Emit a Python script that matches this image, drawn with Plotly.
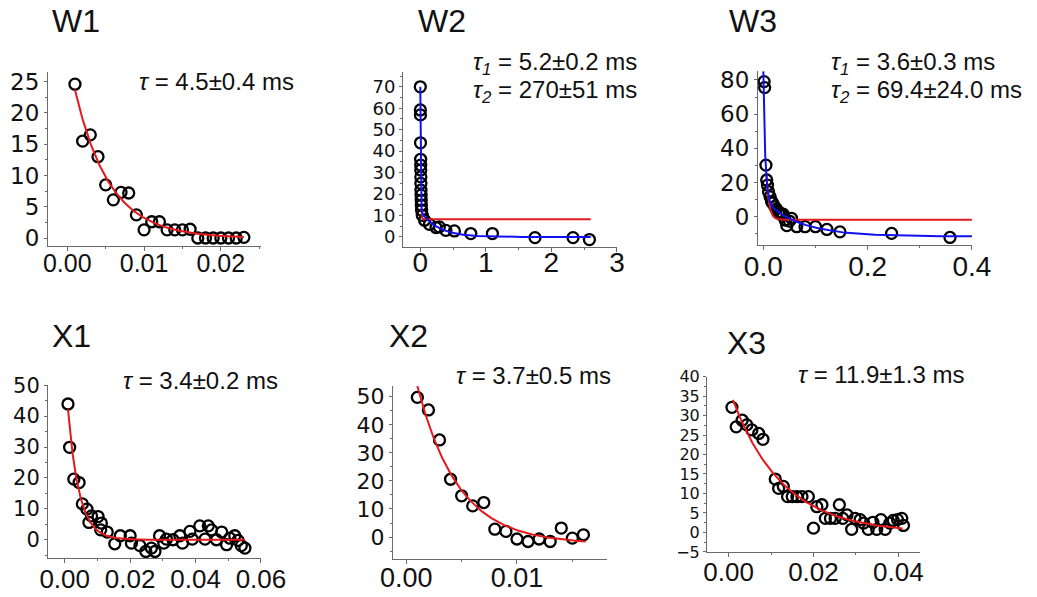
import numpy as np
import plotly.graph_objects as go

W, H = 1037, 597

# ---------------- data ----------------
w1_x = [0.001, 0.002, 0.003, 0.004, 0.005, 0.006, 0.007, 0.008, 0.009, 0.010, 0.011, 0.012,
        0.013, 0.014, 0.015, 0.016, 0.017, 0.018, 0.019, 0.020, 0.021, 0.022, 0.023]
w1_y = [24.6, 15.5, 16.5, 13.0, 8.5, 6.1, 7.3, 7.2, 3.7, 1.3, 2.6, 2.6,
        1.3, 1.3, 1.3, 1.4, 0.0, 0.0, 0.0, 0.0, 0.0, 0.0, 0.1]

w2_x = [0.0, 0.001, 0.002, 0.003, 0.005, 0.006, 0.007, 0.008, 0.009, 0.010, 0.012, 0.014,
        0.016, 0.020, 0.030, 0.065, 0.14, 0.24, 0.29, 0.39, 0.52, 0.77, 1.10, 1.75, 2.33, 2.58]
w2_y = [70.0, 59.2, 56.9, 43.9, 36.2, 33.5, 31.2, 28.0, 25.0, 21.8, 19.5, 17.1,
        14.8, 12.5, 10.1, 7.8, 5.9, 4.4, 4.7, 3.1, 2.8, 1.6, 1.6, -0.3, -0.3, -1.2]

w3_x = [0.0015, 0.0025, 0.005, 0.0065, 0.008, 0.010, 0.013, 0.016, 0.018, 0.022, 0.025,
        0.029, 0.032, 0.035, 0.038, 0.042, 0.045, 0.050, 0.054, 0.064, 0.080, 0.100,
        0.122, 0.147, 0.246, 0.358]
w3_y = [79.0, 75.5, 30.2, 21.5, 18.5, 14.6, 11.7, 8.8, 8.0, 5.8, 4.5,
        2.9, 2.0, 1.0, 1.5, -1.9, -5.2, -2.5, -0.9, -5.8, -5.8, -5.8,
        -7.4, -8.8, -9.7, -12.1]

x1_x = [0.0010, 0.0015, 0.0028, 0.0044, 0.0054, 0.0068, 0.0074, 0.0082, 0.0102, 0.0112,
        0.0110, 0.0130, 0.0153, 0.0170, 0.0200, 0.0204, 0.0230, 0.0248, 0.0265, 0.0276,
        0.0290, 0.0303, 0.0311, 0.0331, 0.0352, 0.0360, 0.0383, 0.0390, 0.0413, 0.0429,
        0.0439, 0.0449, 0.0464, 0.0480, 0.0495, 0.0505, 0.0520, 0.0530, 0.0540, 0.0551]
x1_y = [43.9, 29.9, 19.6, 18.5, 11.6, 9.9, 5.6, 7.7, 7.5, 5.4,
        3.2, 2.5, -1.3, 1.3, 1.3, -1.1, -1.9, -3.8, -2.7, -3.8,
        1.3, -1.1, 0.2, 0.0, 1.3, -1.1, 2.7, 0.2, 4.5, 0.2,
        4.5, 3.2, 0.0, 2.5, -1.6, 0.5, 1.3, -0.2, -1.9, -2.7]

x2_x = [0.001, 0.002, 0.003, 0.004, 0.005, 0.006, 0.007, 0.008, 0.009, 0.010, 0.011,
        0.012, 0.013, 0.014, 0.015, 0.016]
x2_y = [49.8, 45.3, 34.6, 20.6, 14.7, 11.1, 12.3, 2.8, 2.0, -0.7, -1.6,
        -0.7, -1.6, 3.2, -0.4, 0.8]

x3_x = [0.0008, 0.0018, 0.0032, 0.0043, 0.0055, 0.0071, 0.0081, 0.0110, 0.0118, 0.0129,
        0.0139, 0.0150, 0.0161, 0.0173, 0.0188, 0.0200, 0.0208, 0.0220, 0.0228, 0.0240,
        0.0251, 0.0261, 0.0269, 0.0279, 0.0290, 0.0298, 0.0310, 0.0318, 0.0329, 0.0340,
        0.0349, 0.0359, 0.0369, 0.0380, 0.0388, 0.0398, 0.0408, 0.0412]
x3_y = [32.1, 27.1, 28.8, 27.6, 26.3, 25.4, 23.9, 13.7, 11.3, 11.8,
        9.2, 9.2, 9.2, 9.2, 9.2, 1.1, 6.6, 7.1, 3.6, 3.6,
        3.6, 7.1, 3.6, 4.5, 0.8, 3.6, 3.3, 2.4, 0.8, 2.6,
        0.8, 3.3, 0.8, 2.4, 3.1, 3.3, 3.6, 1.8]

# exponential fit parameters: [amplitude(s), tau(s), offset, x_start, x_end]
w1_fit_red = [29.6, 0.0045, 0.0, 0.001, 0.023]
w2_fit_red = [62.0, 0.0060, 8.3, 0.015, 2.6]
w2_fit_blue = [58.0, 0.0052, 12.0, 0.270, 0.0, 0.0, 2.6]
w3_fit_red = [87.0, 0.0050, -1.7, 0.006, 0.4]
w3_fit_blue = [75.0, 0.0036, 21.5, 0.0694, -11.5, 0.0, 0.4]
x1_fit_red = [56.6, 0.0034, 0.0, 0.001, 0.055]
x2_fit_red = [73.8, 0.0037, -2.5, 0.001, 0.0162]
x3_fit_red = [37.2, 0.0119, -0.2, 0.001, 0.041]

titles = ["W1", "W2", "W3", "X1", "X2", "X3"]
notes = [["<i>τ</i> = 4.5±0.4 ms"],
         ["<i>τ<sub>1</sub></i> = 5.2±0.2 ms", "<i>τ<sub>2</sub></i> = 270±51 ms"],
         ["<i>τ<sub>1</sub></i> = 3.6±0.3 ms", "<i>τ<sub>2</sub></i> = 69.4±24.0 ms"],
         ["<i>τ</i> = 3.4±0.2 ms"],
         ["<i>τ</i> = 3.7±0.5 ms"],
         ["<i>τ</i> = 11.9±1.3 ms"]]

RED = "#e3191c"
BLUE = "#1010f0"
AX = "#6a6a6a"


def single(p, n=600):
    a, tau, c, x0, x1 = p
    x = np.concatenate([np.linspace(x0, x0 + 8 * tau, n), np.linspace(x0 + 8 * tau, x1, n)])
    x = x[x <= x1]
    return x, a * np.exp(-x / tau) + c


def double(p, n=600):
    a1, t1, a2, t2, c, x0, x1 = p
    x = np.concatenate([np.linspace(x0, x0 + 10 * t1, n), np.linspace(x0 + 10 * t1, x1, n)])
    x = x[x <= x1]
    return x, a1 * np.exp(-x / t1) + a2 * np.exp(-x / t2) + c


# panel layout (pixel boxes: left, right, top, bottom)
panels = [
    dict(box=(48, 261, 72, 246), xr=[-0.00251, 0.02523], yr=[-1.28, 26.55],
         xd=0.01, xm=0.005, yd=5, ym=2.5, xfmt=".2f", xf=25, yf=23, xso=-9,
         title=(50, 21), note=[(137, 82)]),
    dict(box=(403, 617, 72, 247), xr=[-0.264, 3.001], yr=[-4.67, 76.9],
         xd=1, xm=0.5, yd=10, ym=5, xfmt="d", xf=28, yf=18, xso=-14,
         title=(416, 21), note=[(471, 63), (471, 91)]),
    dict(box=(758, 972, 70.5, 245), xr=[-0.0102, 0.4002], yr=[-16.5, 85.5],
         xd=0.2, xm=0.1, yd=20, ym=10, xfmt=".1f", xf=28, yf=23, xso=-8,
         title=(727, 21), note=[(829, 63), (829, 91)]),
    dict(box=(48, 261, 385, 558), xr=[-0.00511, 0.06002], yr=[-5.9, 50.05],
         xd=0.02, xm=0.01, yd=10, ym=5, xfmt=".2f", xf=26, yf=21, xso=-6,
         title=(50, 336), note=[(121, 380)]),
    dict(box=(393, 607, 386, 559), xr=[-0.0012, 0.01813], yr=[-7.83, 53.84],
         xd=0.01, xm=0.005, yd=10, ym=5, xfmt=".2f", xf=27, yf=22, xso=-9,
         title=(387, 336), note=[(454, 375)]),
    dict(box=(707, 920, 376.5, 552), xr=[-0.00508, 0.0451], yr=[-5.02, 40.02],
         xd=0.02, xm=0.01, yd=5, ym=2.5, xfmt=".2f", xf=26, yf=16, xso=-7,
         title=(725, 343), note=[(796, 374)]),
]

scatter_data = [(w1_x, w1_y), (w2_x, w2_y), (w3_x, w3_y), (x1_x, x1_y), (x2_x, x2_y), (x3_x, x3_y)]
fits = [
    [("r", w1_fit_red)],
    [("r", w2_fit_red), ("b", w2_fit_blue)],
    [("r", w3_fit_red), ("b", w3_fit_blue)],
    [("r", x1_fit_red)],
    [("r", x2_fit_red)],
    [("r", x3_fit_red)],
]

fig = go.Figure()
annotations = []
layout = {}

for i, p in enumerate(panels):
    k = "" if i == 0 else str(i + 1)
    xa, ya = "x" + k, "y" + k
    l, r, t, b = p["box"]
    layout["xaxis" + k] = dict(
        domain=[l / W, r / W], range=p["xr"], anchor=ya, automargin=False,
        showline=True, linecolor=AX, linewidth=1, showgrid=False, zeroline=False,
        ticks="outside", ticklen=4, tickwidth=1, tickcolor=AX,
        tick0=0, dtick=p["xd"], tickformat=p["xfmt"], ticklabelstandoff=p["xso"],
        tickfont=dict(family="Liberation Sans, Arial", size=p["xf"], color="#111"),
        minor=dict(ticks="outside", ticklen=2, tickcolor=AX, dtick=p["xm"], tick0=0, showgrid=False),
        fixedrange=True,
    )
    layout["yaxis" + k] = dict(
        domain=[1 - b / H, 1 - t / H], range=p["yr"], anchor=xa, automargin=False,
        showline=True, linecolor=AX, linewidth=1, showgrid=False, zeroline=False,
        ticks="outside", ticklen=3, tickwidth=1, tickcolor=AX,
        tick0=0, dtick=p["yd"],
        tickfont=dict(family="DejaVu Sans", size=p["yf"], color="#111"),
        minor=dict(ticks="outside", ticklen=2, tickcolor=AX, dtick=p["ym"], tick0=0, showgrid=False),
        fixedrange=True,
    )
    sx, sy = scatter_data[i]
    fig.add_trace(go.Scatter(
        x=sx, y=sy, mode="markers", xaxis=xa, yaxis=ya, showlegend=False, cliponaxis=False,
        marker=dict(symbol="circle-open", size=11, color="black", line=dict(width=2.3, color="black")),
    ))
    for kind, prm in fits[i]:
        if len(prm) == 5:
            fx, fy = single(prm)
        else:
            fx, fy = double(prm)
        fig.add_trace(go.Scatter(
            x=fx, y=fy, mode="lines", xaxis=xa, yaxis=ya, showlegend=False,
            line=dict(color=RED if kind == "r" else BLUE, width=2),
        ))
    tx, ty = p["title"]
    annotations.append(dict(
        x=tx / W, y=1 - ty / H, xref="paper", yref="paper", text=titles[i],
        showarrow=False, xanchor="left", yanchor="middle",
        font=dict(family="Liberation Sans, Arial", size=32, color="#111"),
    ))
    for txt, (nx, ny) in zip(notes[i], p["note"]):
        annotations.append(dict(
            x=nx / W, y=1 - ny / H, xref="paper", yref="paper", text=txt,
            showarrow=False, xanchor="left", yanchor="middle", align="left",
            font=dict(family="Liberation Sans, Arial", size=24, color="#111"),
        ))

fig.update_layout(
    template="none",
    width=W, height=H, margin=dict(l=0, r=0, t=0, b=0, autoexpand=False),
    paper_bgcolor="white", plot_bgcolor="white",
    annotations=annotations, **layout,
)

fig.write_html("out.html", config={"displayModeBar": False},
               post_script="document.body.style.margin='0';document.body.style.padding='0';")
